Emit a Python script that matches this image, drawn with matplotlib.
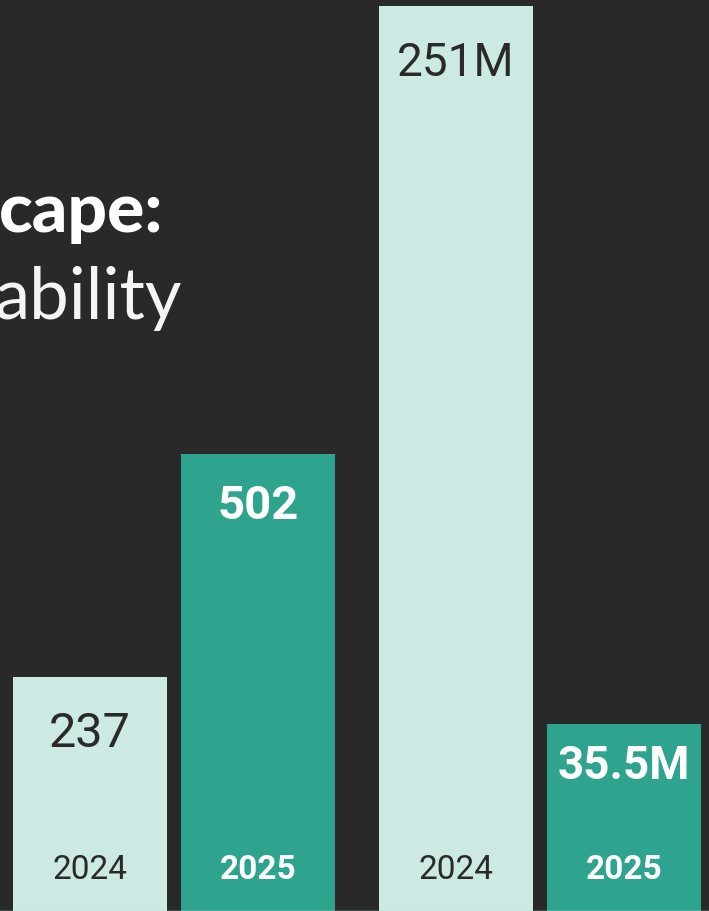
import matplotlib.pyplot as plt
from matplotlib.transforms import blended_transform_factory

# data
years = ['2024', '2025']
counts = [237, 502]
count_labels = ['237', '502']
volumes = [251, 35.5]  # millions
volume_labels = ['251M', '35.5M']

bg = '#292929'
mint = '#cde9e3'
teal = '#2ea38e'
dark = '#2a2a2a'
bar_colors = [mint, teal]
text_colors = [dark, 'white']
weights = ['normal', 'bold']

fig = plt.figure(figsize=(7.09, 9.11), dpi=100, facecolor=bg)

# title (cut off at left in the original)
fig.text(163 / 709, 1 - 232 / 911, 'cape:', ha='right', va='baseline',
         fontsize=50, fontweight='black', family='Lato', color='white')
fig.text(182 / 709, 1 - 319 / 911, 'ability', ha='right', va='baseline',
         fontsize=51, fontweight='normal', family='Lato', color='#f4f4f4')

# x positions shared by both groups (pixel spacing 168, width 154)
xlim = (-90 / 168, (709 - 90) / 168)
pos1 = [0, 1]
pos2 = [366 / 168, 366 / 168 + 1]
width = 154 / 168


def draw_group(ax, pos, vals, labels, pad, top, label_off, fs):
    ax.set_facecolor('none')
    ax.bar(pos, [v + pad for v in vals], bottom=-pad, width=width,
           color=bar_colors, linewidth=0)
    ax.set_xlim(*xlim)
    ax.set_ylim(-pad, top)
    ax.axis('off')
    tr = blended_transform_factory(ax.transData, ax.transAxes)
    for i in range(2):
        ax.annotate(labels[i], (pos[i], vals[i]), xytext=(0, -label_off[i]),
                    textcoords='offset pixels', ha='center', va='center',
                    fontsize=fs[i], fontweight=weights[i],
                    family='Roboto', color=text_colors[i])
        ax.text(pos[i], 41 / 911, years[i], transform=tr, ha='center',
                va='center', fontsize=24, fontweight=weights[i],
                family='Roboto', color=text_colors[i])


ax1 = fig.add_axes([0, 0, 1, 1])
draw_group(ax1, pos1, counts, count_labels, 41, 1041.6, [57, 52], [35, 34])
ax2 = fig.add_axes([0, 0, 1, 1])
draw_group(ax2, pos2, volumes, volume_labels, 20.6, 252.8, [57, 42], [33, 33])

fig.add_artist(plt.Line2D([0, 1], [0.5 / 911, 0.5 / 911], color='#a8d8cf', lw=1))

fig.savefig('out.png', dpi=100, facecolor=bg)
